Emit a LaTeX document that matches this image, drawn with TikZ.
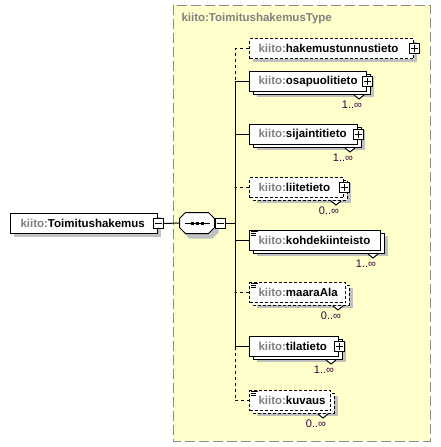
\documentclass[tikz,border=0pt]{standalone}
\usepackage{fontspec}
\setmainfont{Liberation Sans}
\usetikzlibrary{calc}
\definecolor{panelfill}{HTML}{FFFFCC}
\definecolor{framegray}{HTML}{8C8C8C}
\definecolor{shadowgray}{HTML}{C0C0C0}
\definecolor{nsgray}{HTML}{808080}
\definecolor{multcol}{HTML}{3A003A}
\newcommand{\qn}[1]{{\color{nsgray}kiito:}#1}
% single element: #1 name, #2 x, #3 y, #4 width, #5 line style, #6 text
\newcommand{\singleelem}[6]{%
  \fill[shadowgray] (#2+4,#3+4) rectangle ++(#4,20);
  \node[base,#5,minimum width=#4pt] (#1) at (#2,#3) {\makebox[#4pt][l]{\hspace{9pt}\qn{#6}}};}
% repeated element: back copy and shadow
\newcommand{\multielem}[6]{%
  \fill[shadowgray] (#2+8,#3+6) rectangle ++(#4,20);
  \draw[fill=white,#5] (#2+4,#3+3) rectangle ++(#4,20);
  \node[base,#5,minimum width=#4pt] (#1) at (#2,#3) {\makebox[#4pt][l]{\hspace{9pt}\qn{#6}}};}
\newcommand{\multmark}[2]{%
  \fill[white] ($(#1.south east)+(-13,3)$) -- ++(5,4) -- ++(5,-4) -- cycle;
  \draw[solid] ($(#1.south east)+(-13,3)$) -- ++(5,4) -- ++(5,-4);
  \node[mult] (#1-mult) at ($(#1.south east)+(-15,13)$) {#2};}
\newcommand{\simpleicon}[1]{%
  \draw[solid] ($(#1.north west)+(2,1.5)$) -- ++(7,0)
               ($(#1.north west)+(2,3.5)$) -- ++(5,0)
               ($(#1.north west)+(2,5.5)$) -- ++(5,0);}
\begin{document}
\begin{tikzpicture}[x=1pt,y=-1pt,line width=1pt,
  font=\fontsize{11.5}{13.8}\selectfont\bfseries,
  base/.style={draw=black,fill=white,rectangle,anchor=north west,minimum height=20pt,inner sep=0pt},
  opt/.style={dash pattern=on 3pt off 2pt},
  req/.style={solid},
  pmbox/.style={draw=black,fill=white,solid,minimum size=10pt,inner sep=0pt},
  minusbox/.style={pmbox,path picture={\draw[line width=1pt] ($(path picture bounding box.center)+(-3.5,0)$) -- ++(7,0);}},
  plusbox/.style={pmbox,path picture={\draw[line width=1pt] ($(path picture bounding box.center)+(-3.5,0)$) -- ++(7,0) ($(path picture bounding box.center)+(0,-3.5)$) -- ++(0,7);}},
  mult/.style={font=\fontsize{11}{13}\selectfont,text=multcol,inner sep=0pt},
  optconn/.style={dash pattern=on 3pt off 3pt},
  panelframe/.style={fill=panelfill,draw=framegray,dash pattern=on 10pt off 4pt},
]
\useasboundingbox (0,0) rectangle (441,447);
% panel
\path[panelframe] (173,5) rectangle (430,441);
\node[anchor=west,inner sep=0pt,text=nsgray] (title) at (181,19) {kiito:ToimitushakemusType};
% root
\fill[shadowgray] (14,217) rectangle ++(147,20);
\node[base,minimum width=147pt] (root) at (10,213) {\makebox[147pt][l]{\hspace{10pt}\qn{Toimitushakemus}}};
\node[minusbox] (rootm) at (root.east) {};
% sequence compositor
\node[minimum width=34pt,minimum height=20pt,inner sep=0pt] (seq) at (197,223) {};
\fill[shadowgray,transform canvas={xshift=4pt,yshift=-5pt}]
  ($(seq.north west)+(6,0)$) -- ($(seq.north east)+(-6,0)$) -- ($(seq.north east)+(0,6)$) -- ($(seq.south east)+(0,-6)$) -- ($(seq.south east)+(-6,0)$) -- ($(seq.south west)+(6,0)$) -- ($(seq.south west)+(0,-6)$) -- ($(seq.north west)+(0,6)$) -- cycle;
\filldraw[fill=white,draw=black]
  ($(seq.north west)+(6,0)$) -- ($(seq.north east)+(-6,0)$) -- ($(seq.north east)+(0,6)$) -- ($(seq.south east)+(0,-6)$) -- ($(seq.south east)+(-6,0)$) -- ($(seq.south west)+(6,0)$) -- ($(seq.south west)+(0,-6)$) -- ($(seq.north west)+(0,6)$) -- cycle;
\draw ($(seq.west)+(5,0)$) -- ($(seq.east)+(-5,0)$);
\foreach \dx in {-5,0,5} \fill ($(seq.center)+(\dx,0)+(-1.5,-1.5)$) rectangle ++(3,3);
\node[minusbox,anchor=west] (seqm) at (seq.east) {};
% children
\singleelem{hak}{249}{38}{164}{opt}{hakemustunnustieto}
\node[plusbox] (hakp) at (hak.east) {};

\multielem{osa}{249}{71}{117}{req}{osapuolitieto}
\node[plusbox] (osap) at (osa.east) {};
\multmark{osa}{1..∞}

\multielem{sij}{249}{124}{108}{req}{sijaintitieto}
\node[plusbox] (sijp) at (sij.east) {};
\multmark{sij}{1..∞}

\multielem{lii}{249}{177}{94}{opt}{liitetieto}
\node[plusbox] (liip) at (lii.east) {};
\multmark{lii}{0..∞}

\multielem{koh}{249}{230}{131}{req}{kohdekiinteisto}
\simpleicon{koh}
\multmark{koh}{1..∞}

\multielem{maa}{249}{282}{96}{opt}{maaraAla}
\simpleicon{maa}
\multmark{maa}{0..∞}

\multielem{til}{249}{336}{89}{req}{tilatieto}
\node[plusbox] (tilp) at (til.east) {};
\multmark{til}{1..∞}

\multielem{kuv}{249}{390}{81}{opt}{kuvaus}
\simpleicon{kuv}
\multmark{kuv}{0..∞}
% connectors
\coordinate (bus) at (235,223);
\draw (rootm.east) -- (seq.west);
\draw (seqm.east) -- (bus);
\draw[optconn] (hak.west) -- (hak.west -| bus) -- (osa.west -| bus);
\draw (osa.west) -- (osa.west -| bus) -- (til.west -| bus);
\draw[optconn] (til.west -| bus) -- (kuv.west -| bus) -- (kuv.west);
\draw (sij.west) -- (sij.west -| bus);
\draw[optconn] (lii.west) -- (lii.west -| bus);
\draw (koh.west) -- (koh.west -| bus);
\draw[optconn] (maa.west) -- (maa.west -| bus);
\draw (til.west) -- (til.west -| bus);
\end{tikzpicture}
\end{document}
